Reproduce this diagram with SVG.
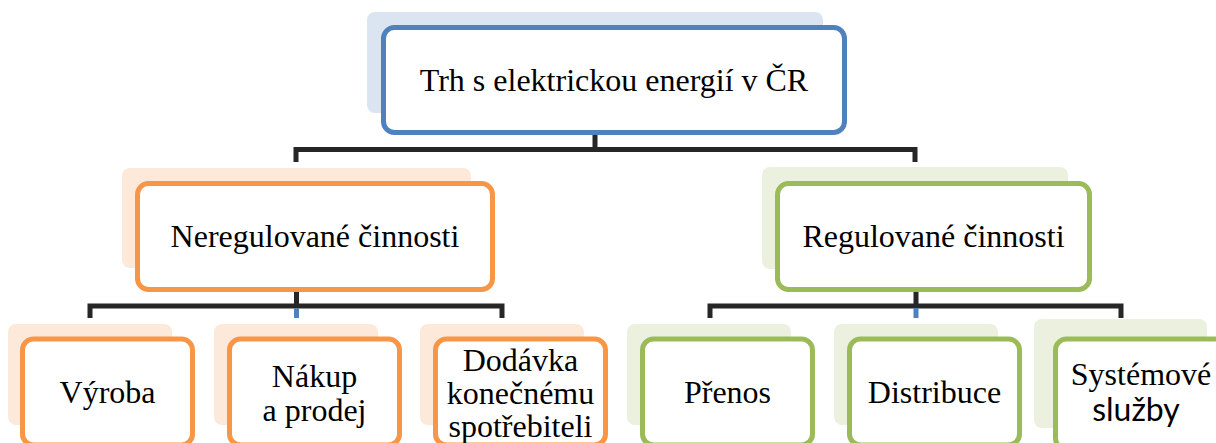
<svg xmlns="http://www.w3.org/2000/svg" width="1216" height="443" viewBox="0 0 1216 443">
<style>
.sb{fill:#dbe5f1}
.so{fill:#fde9d9}
.sg{fill:#ebf1de}
.fb{fill:#ffffff;stroke:#4f81bd;stroke-width:5}
.fo{fill:#ffffff;stroke:#f79646;stroke-width:5}
.fg{fill:#ffffff;stroke:#9bbb59;stroke-width:5}
.t{font-family:"Liberation Serif","Times New Roman",serif;font-size:32px;fill:#000;text-anchor:middle}
.ts{font-family:Lato,"Liberation Sans",sans-serif;font-size:32px;fill:#000;text-anchor:middle}
.c{fill:none;stroke:#262626;stroke-width:5;stroke-linejoin:miter;stroke-linecap:butt}
.cb{fill:none;stroke:#4f81bd;stroke-width:5}
</style>
<g id="connectors">
<path class="c" d="M595,133 V149.5 M296,162 V149.5 H915 V162"/>
<path class="c" d="M296.5,291 V306 M90,318 V306 H502 V318"/>
<path class="cb" d="M296.5,308 V318"/>
<path class="c" d="M916,291 V306 M710,318 V306 H1121 V318"/>
<path class="cb" d="M916,308 V318"/>
</g>
<g id="root">
<rect class="sb" x="367" y="12" width="456" height="101" rx="8"/>
<rect class="fb" x="383.5" y="27.5" width="461" height="105" rx="11"/>
<text class="t" x="614" y="91">Trh s elektrickou energií v ČR</text>
</g>
<g id="nereg">
<rect class="so" x="122" y="168" width="349" height="100" rx="8"/>
<rect class="fo" x="137.5" y="183.5" width="355" height="106" rx="11"/>
<text class="t" x="315" y="247">Neregulované činnosti</text>
</g>
<g id="reg">
<rect class="sg" x="762" y="167" width="306" height="102" rx="8"/>
<rect class="fg" x="777.5" y="183.5" width="312" height="106" rx="11"/>
<text class="t" x="933.5" y="247">Regulované činnosti</text>
</g>
<g id="vyroba">
<rect class="so" x="8" y="324" width="164" height="101" rx="8"/>
<rect class="fo" x="22.5" y="339" width="170" height="106" rx="11"/>
<text class="t" x="107.5" y="403">Výroba</text>
</g>
<g id="nakup">
<rect class="so" x="214" y="324" width="164" height="101" rx="8"/>
<rect class="fo" x="229.5" y="339" width="170" height="106" rx="11"/>
<text class="t" x="314.5" y="387">Nákup</text>
<text class="t" x="314.5" y="421">a prodej</text>
</g>
<g id="dodavka">
<rect class="so" x="420" y="324" width="164" height="101" rx="8"/>
<rect class="fo" x="435.5" y="339" width="170" height="106" rx="11"/>
<text class="t" x="520.5" y="371">Dodávka</text>
<text class="t" x="520.5" y="404">konečnému</text>
<text class="t" x="520.5" y="437">spotřebiteli</text>
</g>
<g id="prenos">
<rect class="sg" x="627" y="324" width="164" height="101" rx="8"/>
<rect class="fg" x="642.5" y="339" width="170" height="106" rx="11"/>
<text class="t" x="727.5" y="403">Přenos</text>
</g>
<g id="distribuce">
<rect class="sg" x="834" y="324" width="164" height="101" rx="8"/>
<rect class="fg" x="849.5" y="339" width="170" height="106" rx="11"/>
<text class="t" x="934.5" y="403">Distribuce</text>
</g>
<g id="systemove">
<rect class="sg" x="1034" y="319" width="173" height="109" rx="8"/>
<rect class="fg" x="1055.5" y="339" width="180" height="110" rx="11"/>
<text class="t" x="1141" y="385">Systémové</text>
<text class="ts" x="1136" y="421">služby</text>
</g>
</svg>
